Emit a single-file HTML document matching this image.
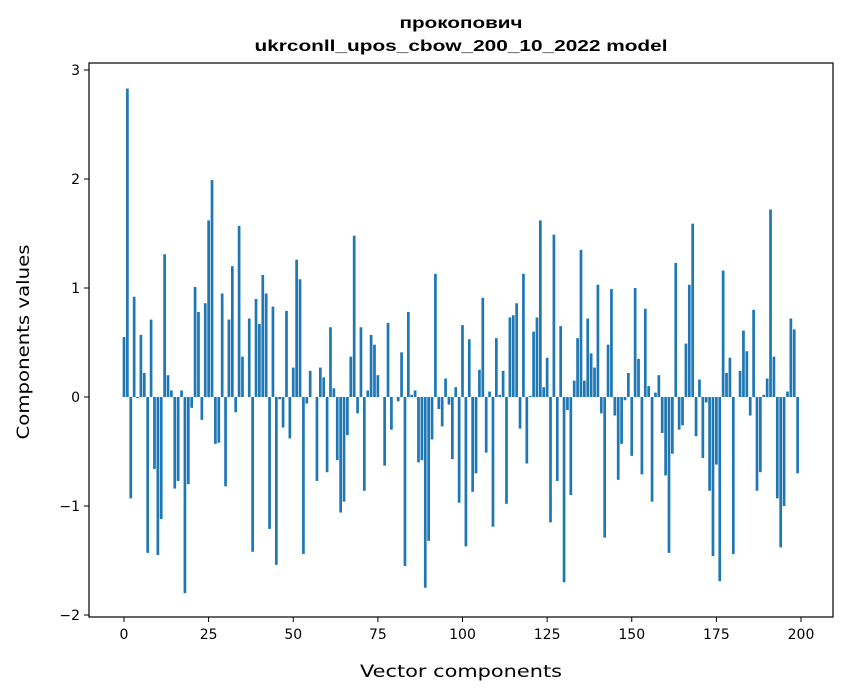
<!DOCTYPE html>
<html><head><meta charset="utf-8"><style>
body{margin:0;background:#fff;}
svg{display:block;font-family:"DejaVu Sans","Liberation Sans",sans-serif;}
</style></head><body>
<svg id="chart" width="847" height="696">
<rect width="847" height="696" fill="#fff"/>
<text x="461" y="28" text-anchor="middle" font-size="16" font-weight="bold" textLength="123" lengthAdjust="spacingAndGlyphs" font-family="Liberation Sans, sans-serif">прокопович</text>
<text x="461" y="51" text-anchor="middle" font-size="16" font-weight="bold" textLength="413" lengthAdjust="spacingAndGlyphs" font-family="Liberation Sans, sans-serif">ukrconll_upos_cbow_200_10_2022 model</text>
<g id="bars"></g>
<g id="axes"></g>
<text x="461" y="677" text-anchor="middle" font-size="17" textLength="202" lengthAdjust="spacingAndGlyphs">Vector components</text>
<text x="29" y="342" text-anchor="middle" font-size="17" textLength="195" lengthAdjust="spacingAndGlyphs" transform="rotate(-90 29 342)">Components values</text>
</svg>
<script>
const values=[0.55,2.83,-0.93,0.92,-0.01,0.57,0.22,-1.43,0.71,-0.66,-1.45,-1.12,1.31,0.20,0.06,-0.84,-0.77,0.06,-1.80,-0.80,-0.10,1.01,0.78,-0.21,0.86,1.62,1.99,-0.43,-0.42,0.95,-0.82,0.71,1.20,-0.14,1.57,0.37,0,0.72,-1.42,0.90,0.67,1.12,0.95,-1.21,0.83,-1.54,-0.02,-0.28,0.79,-0.38,0.27,1.26,1.08,-1.44,-0.06,0.24,0,-0.77,0.27,0.18,-0.69,0.64,0.08,-0.58,-1.06,-0.96,-0.35,0.37,1.48,-0.15,0.64,-0.86,0.06,0.57,0.48,0.20,0,-0.63,0.68,-0.30,0,-0.04,0.41,-1.55,0.78,0.02,0.06,-0.60,-0.58,-1.75,-1.32,-0.39,1.13,-0.11,-0.27,0.17,-0.07,-0.57,0.09,-0.97,0.66,-1.37,0.53,-0.87,-0.70,0.25,0.91,-0.51,0.05,-1.19,0.54,0.02,0.24,-0.98,0.73,0.75,0.86,-0.29,1.13,-0.61,0.01,0.60,0.73,1.62,0.09,0.36,-1.15,1.49,-0.77,0.65,-1.70,-0.12,-0.90,0.15,0.54,1.35,0.15,0.72,0.40,0.27,1.03,-0.15,-1.29,0.48,0.99,-0.17,-0.76,-0.43,-0.03,0.22,-0.54,1.00,0.35,-0.71,0.81,0.10,-0.96,0.04,0.20,-0.33,-0.72,-1.43,-0.52,1.23,-0.30,-0.26,0.49,1.03,1.59,-0.36,0.16,-0.56,-0.05,-0.86,-1.46,-0.62,-1.69,1.16,0.22,0.36,-1.44,0,0.24,0.61,0.42,-0.17,0.80,-0.86,-0.69,0.02,0.17,1.72,0.37,-0.93,-1.38,-1.00,0.05,0.72,0.62,-0.70];
const xTicks=[0,25,50,75,100,125,150,175,200];
const yTicks=[-2,-1,0,1,2,3];
const NS="http://www.w3.org/2000/svg";
const L=89,R=833,T=63,B=617;
const xs=v=>124+v*(801-124)/200;
const ys=v=>397-v*109;
const bars=document.getElementById('bars');
const bw=(xs(1)-xs(0))*0.8;
values.forEach((v,i)=>{
  const r=document.createElementNS(NS,'rect');
  r.setAttribute('x',xs(i)-bw/2);
  r.setAttribute('y',Math.min(ys(v),ys(0)));
  r.setAttribute('width',bw);
  r.setAttribute('height',Math.abs(ys(v)-ys(0)));
  r.setAttribute('fill','#1f77b4');
  
  
  bars.appendChild(r);
});
const ax=document.getElementById('axes');
const fr=document.createElementNS(NS,'rect');
fr.setAttribute('x',L);fr.setAttribute('y',T);fr.setAttribute('width',R-L);fr.setAttribute('height',B-T);
fr.setAttribute('fill','none');fr.setAttribute('stroke','#000');fr.setAttribute('stroke-width','1.2');


ax.appendChild(fr);
xTicks.forEach(t=>{
  const l=document.createElementNS(NS,'line');
  l.setAttribute('x1',xs(t));l.setAttribute('x2',xs(t));l.setAttribute('y1',B);l.setAttribute('y2',B+5);l.setAttribute('stroke','#000');
  
  
  ax.appendChild(l);
  const tx=document.createElementNS(NS,'text');
  tx.setAttribute('x',xs(t));tx.setAttribute('y',B+22);tx.setAttribute('text-anchor','middle');tx.setAttribute('font-size','14');
  tx.textContent=t;
  
  
  ax.appendChild(tx);
});
yTicks.forEach(t=>{
  const l=document.createElementNS(NS,'line');
  l.setAttribute('x1',L-5);l.setAttribute('x2',L);l.setAttribute('y1',ys(t));l.setAttribute('y2',ys(t));l.setAttribute('stroke','#000');
  
  
  ax.appendChild(l);
  const tx=document.createElementNS(NS,'text');
  tx.setAttribute('x',L-9);tx.setAttribute('y',ys(t)+5);tx.setAttribute('text-anchor','end');tx.setAttribute('font-size','14');
  tx.textContent=t<0?'\u2212'+Math.abs(t):t;
  
  
  ax.appendChild(tx);
});
</script>
</body></html>
